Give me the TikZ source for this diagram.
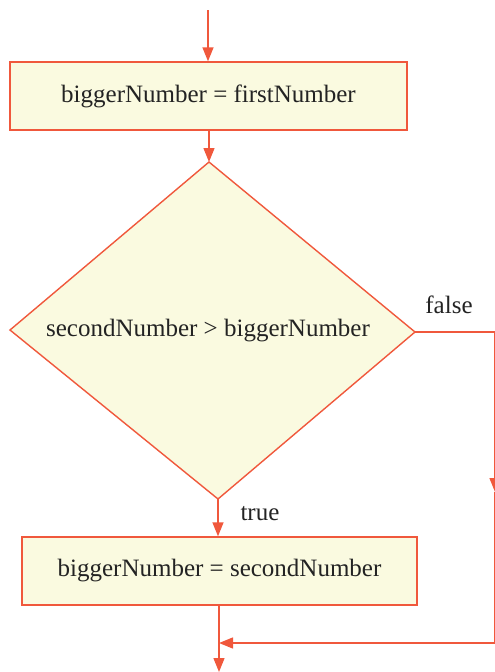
\documentclass[tikz,border=0pt]{standalone}
\usepackage{fontspec}
\setmainfont{Liberation Serif}
\usepackage{tikz}
\definecolor{flowline}{RGB}{240, 88, 60}
\definecolor{flowfill}{RGB}{250, 250, 224}
\definecolor{flowtext}{RGB}{35, 35, 35}
\usetikzlibrary{arrows.meta, positioning, calc}
\tikzset{
    stepbox/.style={draw=flowline, line width=1.4pt, fill=flowfill,
        text=flowtext, font=\fontsize{25}{30}\selectfont},
    flow/.style={draw=flowline, line width=1.4pt},
    flowarrow/.style={flow, -{Triangle[length=14pt, width=11pt]}},
    flowlabel/.style={text=flowtext, font=\fontsize{25}{30}\selectfont}
}

\begin{document}
\begin{tikzpicture}[x=1pt, y=-1pt]
    \useasboundingbox (0,0) rectangle (495,672);
    % start
    \coordinate (start) at (208,10);
    \node[stepbox, minimum width=397pt, minimum height=68pt] (firstbox) at (208.5,96) {biggerNumber = firstNumber};
    % decision
    \coordinate (dtop) at (209,162);
    \coordinate (dleft) at (10,330);
    \coordinate (dright) at (415,332);
    \coordinate (dbot) at (218,499);
    \path[stepbox] (dtop) -- (dright) -- (dbot) -- (dleft) -- cycle;
    \node[flowlabel] (cond) at (208,331) {secondNumber > biggerNumber};
    \node[flowlabel] (falselabel) at (449,305) {false};
    \node[flowlabel, anchor=west] (truelabel) at (237,514) {true};
    % second assignment
    \node[stepbox, minimum width=395pt, minimum height=68pt] (secondbox) at (219.5,571) {biggerNumber = secondNumber};
    % connectors
    \coordinate (fcorner) at (495,332);
    \coordinate (fmid) at (495,492);
    \coordinate (fbot) at (495,643);
    \coordinate (merge) at (219,643);
    \coordinate (finish) at (219,672);
    \draw[flowarrow] (start) -- (firstbox.north -| start);
    \draw[flowarrow] (firstbox.south -| dtop) -- (dtop);
    \draw[flowarrow] (dbot) -- (secondbox.north -| dbot);
    \draw[flowarrow] (dright) -- (fcorner) -- (fmid);
    \draw[flowarrow] (fmid) -- (fbot) -- (merge);
    \draw[flowarrow] (secondbox.south -| merge) -- (finish);
\end{tikzpicture}
\end{document}
